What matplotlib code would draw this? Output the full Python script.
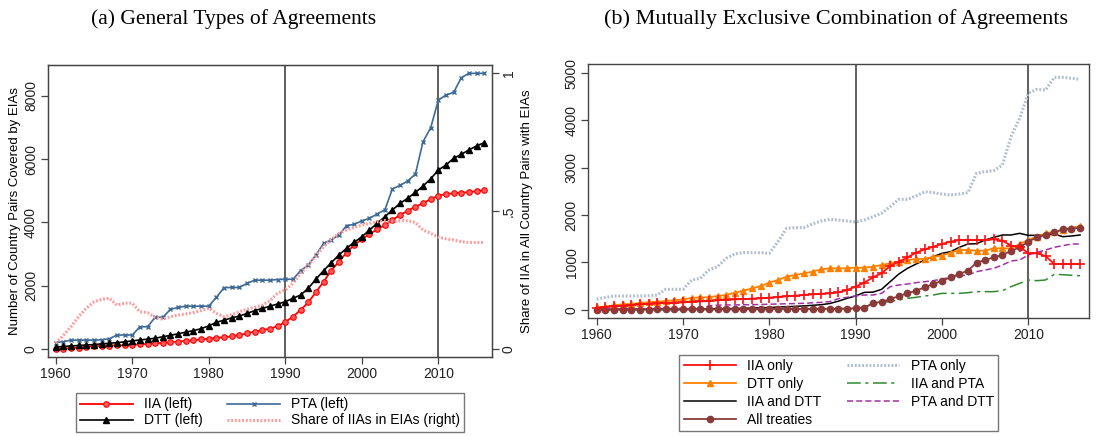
import numpy as np
import matplotlib.pyplot as plt

plt.rcParams['font.family'] = ['Liberation Sans', 'DejaVu Sans']

years = np.arange(1960, 2017)

# panel (a): general types of agreements
iia = [0, 20, 40, 55, 75, 95, 105, 115, 125, 130,
       140, 155, 170, 185, 205, 225, 245, 265, 285, 310,
       335, 360, 380, 405, 450, 500, 560, 600, 650, 730,
       860, 1030, 1240, 1480, 1800, 2130, 2480, 2765, 3050, 3290,
       3470, 3630, 3785, 3920, 4080, 4235, 4370, 4500, 4605, 4740,
       4845, 4900, 4920, 4940, 4960, 4990, 5010]
dtt = [70, 90, 105, 120, 135, 150, 170, 190, 210, 235,
       265, 295, 320, 350, 395, 440, 490, 540, 590, 650,
       740, 850, 920, 990, 1050, 1130, 1220, 1290, 1360, 1430,
       1500, 1610, 1710, 1925, 2210, 2480, 2730, 2975, 3185, 3375,
       3550, 3760, 3975, 4180, 4395, 4605, 4765, 4950, 5150, 5380,
       5655, 5815, 6025, 6150, 6290, 6415, 6520]
pta = [210, 240, 290, 290, 290, 290, 300, 330, 450, 450,
       450, 710, 710, 1010, 1010, 1260, 1320, 1360, 1360, 1360,
       1360, 1640, 1945, 1950, 1950, 2080, 2180, 2180, 2180, 2200,
       2210, 2210, 2480, 2660, 2975, 3340, 3450, 3605, 3900, 3940,
       4055, 4130, 4270, 4395, 5060, 5170, 5310, 5530, 6550, 6990,
       7865, 8020, 8105, 8570, 8705, 8705, 8705]
share = [0.022, 0.05, 0.082, 0.118, 0.149, 0.172, 0.181, 0.185, 0.160, 0.167,
         0.167, 0.136, 0.133, 0.115, 0.109, 0.118, 0.124, 0.128, 0.133, 0.140,
         0.149, 0.130, 0.118, 0.125, 0.136, 0.145, 0.152, 0.160, 0.176, 0.203,
         0.215, 0.239, 0.275, 0.305, 0.338, 0.372, 0.398, 0.420, 0.432, 0.441,
         0.450, 0.456, 0.462, 0.466, 0.462, 0.466, 0.466, 0.459, 0.432, 0.420,
         0.406, 0.400, 0.396, 0.390, 0.387, 0.387, 0.387]

# panel (b): mutually exclusive combinations
iia_only = [28, 60, 70, 85, 99, 110, 127, 134, 141, 148,
            155, 169, 176, 183, 197, 211, 218, 225, 232, 240,
            254, 268, 282, 296, 310, 324, 335, 345, 366, 416,
            486, 571, 684, 768, 923, 1015, 1106, 1205, 1276, 1332,
            1388, 1438, 1473, 1470, 1470, 1473, 1487, 1459, 1353, 1332,
            1191, 1191, 1135, 965, 965, 965, 965]
dtt_only = [49, 63, 92, 113, 120, 141, 155, 169, 183, 197,
            218, 247, 261, 261, 289, 310, 359, 402, 451, 500,
            571, 627, 698, 733, 768, 803, 853, 874, 874, 874,
            888, 888, 909, 944, 980, 1015, 1050, 1071, 1071, 1120,
            1142, 1205, 1261, 1261, 1247, 1247, 1297, 1297, 1297, 1388,
            1473, 1543, 1614, 1649, 1684, 1720, 1776]
iia_dtt = [0, 0, 2, 3, 4, 5, 5, 6, 6, 7,
           7, 8, 10, 15, 20, 22, 25, 30, 35, 40,
           45, 55, 63, 70, 80, 92, 105, 130, 180, 240,
           290, 366, 370, 430, 592, 754, 874, 965, 1050, 1120,
           1191, 1226, 1318, 1388, 1395, 1473, 1529, 1579, 1579, 1614,
           1571, 1571, 1579, 1600, 1543, 1557, 1579]
all_treaties = [0, 0, 0, 2, 2, 3, 3, 4, 4, 5,
                5, 6, 6, 7, 8, 8, 9, 10, 10, 11,
                12, 13, 14, 15, 16, 17, 18, 20, 22, 24,
                28, 42, 134, 169, 218, 289, 345, 402, 472, 543,
                613, 684, 754, 825, 994, 1050, 1106, 1156, 1240, 1318,
                1438, 1529, 1579, 1635, 1698, 1712, 1734]
pta_only = [220, 260, 289, 289, 289, 289, 295, 310, 430, 430,
            430, 627, 662, 838, 909, 1085, 1177, 1205, 1205, 1205,
            1191, 1438, 1720, 1734, 1734, 1812, 1875, 1910, 1896, 1875,
            1853, 1896, 1966, 2037, 2178, 2333, 2333, 2403, 2495, 2474,
            2445, 2424, 2445, 2474, 2882, 2918, 2939, 3058, 3658, 4045,
            4574, 4658, 4644, 4912, 4912, 4891, 4870]
iia_pta = [0, 0, 0, 0, 0, 0, 0, 0, 0, 0,
           0, 2, 2, 3, 3, 4, 4, 5, 5, 6,
           6, 7, 8, 8, 9, 10, 10, 12, 14, 16,
           20, 63, 113, 148, 176, 204, 240, 261, 289, 310,
           345, 345, 345, 359, 381, 381, 381, 402, 486, 557,
           627, 613, 627, 747, 740, 726, 719]
pta_dtt = [15, 15, 18, 18, 20, 20, 22, 22, 25, 25,
           28, 28, 30, 80, 95, 100, 100, 105, 105, 110,
           115, 120, 125, 130, 135, 145, 155, 170, 233, 261,
           289, 310, 310, 345, 486, 521, 543, 571, 592, 613,
           648, 684, 712, 733, 803, 839, 874, 944, 1029, 1050,
           1156, 1212, 1261, 1318, 1353, 1388, 1388]

frame = '#444444'

fig = plt.figure(figsize=(11.03, 4.36), dpi=100)

def style(ax):
    for s in ax.spines.values():
        s.set_color(frame)
        s.set_linewidth(1.0)
    ax.tick_params(colors=frame, labelcolor='#222222', labelsize=10, length=5,
                   width=0.9, pad=2)
    ax.axvline(1990, color='#333333', lw=1.1, zorder=1)
    ax.axvline(2010, color='#333333', lw=1.1, zorder=1)
    ax.set_xticks(range(1960, 2011, 10))

# ---- (a)
ax = fig.add_axes([0.0432, 0.1812, 0.4028, 0.6697])
style(ax)
ax.set_xlim(1958.95, 2017.0)
ax.set_ylim(-243, 8968)
ax.set_yticks([0, 2000, 4000, 6000, 8000])
ax.tick_params(axis='y', labelrotation=90)
for t in ax.get_yticklabels():
    t.set_va('center')
ax.set_ylabel('Number of Country Pairs Covered by EIAs', fontsize=9.5, labelpad=2)

h1, = ax.plot(years, iia, color='red', lw=1.3, marker='o', ms=4,
              mfc='#ff5a5a', mec='red', mew=0.8, label='IIA (left)', zorder=4)
h2, = ax.plot(years, dtt, color='black', lw=1.2, marker='^', ms=4.5,
              label='DTT (left)', zorder=4)
h3, = ax.plot(years, pta, color='#3d6a96', lw=1.2, marker='x', ms=3,
              mew=1.0, label='PTA (left)', zorder=3)
ax2 = ax.twinx()
h4, = ax2.plot(years, share, color='#ff9a9a', lw=2.2, ls=(0, (0.6, 0.6)),
               label='Share of IIAs in EIAs (right)')
ax2.set_ylim(-0.028, 1.030)
ax2.set_yticks([0, 0.5, 1])
ax2.set_yticklabels(['0', '.5', '1'])
for s in ax2.spines.values():
    s.set_color(frame)
ax2.tick_params(colors=frame, labelcolor='#222222', labelsize=10, length=5,
                width=0.9, pad=2)
ax2.tick_params(axis='y', labelrotation=90)
for t in ax2.get_yticklabels():
    t.set_va('center')
ax2.set_ylabel('Share of IIA in All Country Pairs with EIAs', fontsize=9.5, labelpad=4)

fig.legend([h1, h2, h3, h4], [h.get_label() for h in [h1, h2, h3, h4]],
           ncol=2, loc='center', bbox_to_anchor=(0.2448, 0.054), fontsize=10,
           frameon=True, fancybox=False, edgecolor='#555555', handlelength=3.8,
           numpoints=1, labelspacing=0.15, columnspacing=1.8, borderpad=0.3,
           handletextpad=0.8)

fig.text(0.2117, 0.957, '(a) General Types of Agreements', ha='center', va='center',
         fontsize=15.5, family='Liberation Serif')

# ---- (b)
bx = fig.add_axes([0.5334, 0.2700, 0.4542, 0.5826])
style(bx)
bx.set_xlim(1959.03, 2017.07)
bx.set_ylim(-182, 5188)
bx.set_yticks(range(0, 5001, 1000))
bx.tick_params(axis='y', labelrotation=90)
for t in bx.get_yticklabels():
    t.set_va('center')

g1, = bx.plot(years, iia_only, color='#ff1010', lw=1.3, marker='+', ms=7, mew=1.2,
              label='IIA only', zorder=5)
g2, = bx.plot(years, dtt_only, color='#ff8000', lw=1.3, marker='^', ms=5,
              label='DTT only', zorder=4)
g3, = bx.plot(years, iia_dtt, color='black', lw=1.1, label='IIA and DTT', zorder=3)
g5, = bx.plot(years, pta_only, color='#aebdd0', lw=2.2, ls=(0, (0.6, 0.6)),
              label='PTA only', zorder=2)
g6, = bx.plot(years, iia_pta, color='#2e8a2e', lw=1.1, ls=(0, (9, 3, 2, 3)),
              label='IIA and PTA', zorder=3)
g7, = bx.plot(years, pta_dtt, color='#a030a8', lw=1.1, ls=(0, (4, 2)),
              label='PTA and DTT', zorder=3)
g4, = bx.plot(years, all_treaties, color='#8b3a3a', lw=1.3, marker='o', ms=4.5,
              label='All treaties', zorder=4)

hs = [g1, g2, g3, g4, g5, g6, g7]
fig.legend(hs, [h.get_label() for h in hs], ncol=2, loc='center',
           bbox_to_anchor=(0.7604, 0.0986), fontsize=10, frameon=True,
           fancybox=False, edgecolor='#555555', handlelength=3.8, numpoints=1,
           labelspacing=0.3, columnspacing=1.8, borderpad=0.3, handletextpad=0.8)

fig.text(0.758, 0.957, '(b) Mutually Exclusive Combination of Agreements',
         ha='center', va='center', fontsize=16, family='Liberation Serif')

fig.savefig('out.png', dpi=100)
